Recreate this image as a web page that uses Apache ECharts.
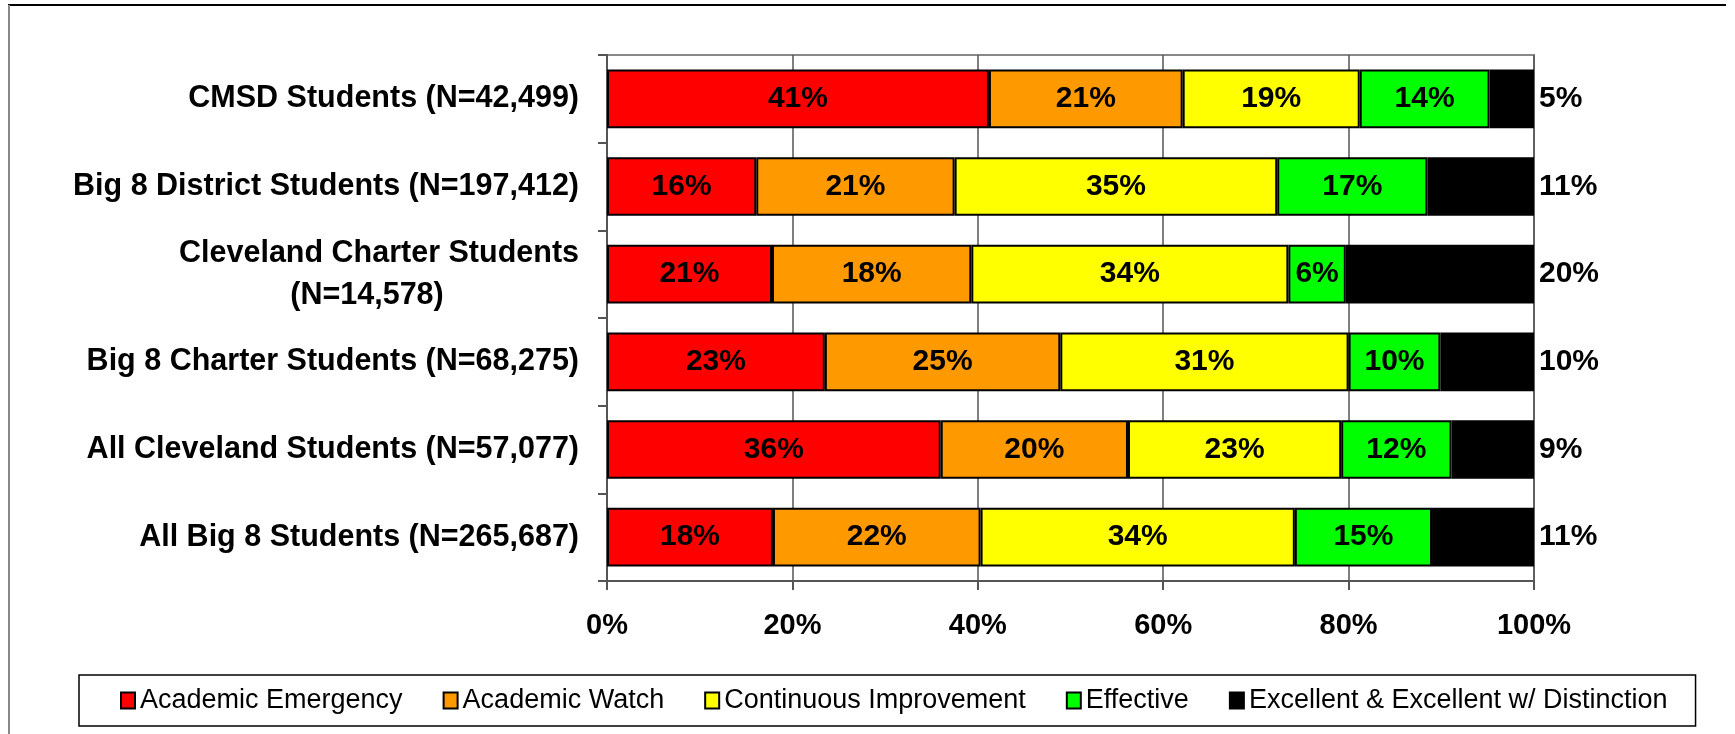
<!DOCTYPE html>
<html>
<head>
<meta charset="utf-8">
<script src="https://cdn.jsdelivr.net/npm/echarts@6.0.0/dist/echarts.min.js"></script>
<style>
  html, body { margin: 0; padding: 0; background: #fff; }
  #chart { width: 1735px; height: 734px; }
</style>
</head>
<body>
<div id="chart"></div>
<script>
// Performance designation shares by student group
const categories = [
    'CMSD Students (N=42,499)',
    'Big 8 District Students (N=197,412)',
    'Cleveland Charter Students\n(N=14,578)',
    'Big 8 Charter Students (N=68,275)',
    'All Cleveland Students (N=57,077)',
    'All Big 8 Students (N=265,687)'
];
const seriesNames = [
    'Academic Emergency',
    'Academic Watch',
    'Continuous Improvement',
    'Effective',
    'Excellent & Excellent w/ Distinction'
];
const seriesColors = ['#ff0000', '#ff9900', '#ffff00', '#00ff00', '#000000'];

// bar lengths (percent) as drawn
const emergency = [41.2, 16.1, 17.8, 23.5, 36.0, 17.9];
const watch = [20.9, 21.4, 21.5, 25.4, 20.2, 22.4];
const continuous = [19.1, 34.8, 34.2, 31.1, 23.0, 33.9];
const effective = [14.0, 16.2, 6.2, 9.9, 11.9, 14.8];
const excellent = [4.8, 11.5, 20.3, 10.1, 8.9, 11.0];

// printed labels (percent)
const emergencyLbl = [41, 16, 21, 23, 36, 18];
const watchLbl = [21, 21, 18, 25, 20, 22];
const continuousLbl = [19, 35, 34, 31, 23, 34];
const effectiveLbl = [14, 17, 6, 10, 12, 15];
const excellentLbl = [5, 11, 20, 10, 9, 11];

const xTicks = [0, 20, 40, 60, 80, 100];

const values = [emergency, watch, continuous, effective, excellent];
const labels = [emergencyLbl, watchLbl, continuousLbl, effectiveLbl, excellentLbl];

const FONT = '"Liberation Sans", Arial, sans-serif';
const catFont = 30.5;

// used to centre the 2nd line of a wrapped category label under the first
const ctx = document.createElement('canvas').getContext('2d');
ctx.font = 'bold ' + catFont + 'px "Liberation Sans"';

const chart = echarts.init(document.getElementById('chart'));

const series = seriesNames.map((name, i) => ({
    name: name,
    type: 'bar',
    stack: 'total',
    barCategoryGap: '33%',
    data: values[i],
    itemStyle: {
        color: seriesColors[i],
        borderColor: '#000',
        borderWidth: 2
    },
    label: {
        show: true,
        position: i === 4 ? 'right' : 'inside',
        distance: 5,
        color: '#000',
        fontFamily: FONT,
        fontWeight: 'bold',
        fontSize: 30,
        formatter: p => labels[i][p.dataIndex] + '%'
    },
    emphasis: { disabled: true },
    animation: false
}));

const option = {
    backgroundColor: '#fff',
    animation: false,
    grid: {
        left: 607,
        right: 201,
        top: 55,
        bottom: 153,
        show: true,
        backgroundColor: '#fff',
        borderColor: '#888',
        borderWidth: 2
    },
    xAxis: {
        type: 'value',
        min: xTicks[0],
        max: xTicks[xTicks.length - 1],
        interval: 20,
        axisLine: { show: true, lineStyle: { color: '#555', width: 2 } },
        axisTick: { show: true, length: 9, lineStyle: { color: '#555', width: 2 } },
        splitLine: { show: true, lineStyle: { color: '#555', width: 1.5 } },
        axisLabel: {
            margin: 30,
            color: '#000',
            fontFamily: FONT,
            fontWeight: 'bold',
            fontSize: 29,
            formatter: '{value}%'
        }
    },
    yAxis: {
        type: 'category',
        inverse: true,
        data: categories,
        axisLine: { show: true, lineStyle: { color: '#555', width: 2 } },
        axisTick: { show: true, length: 9, lineStyle: { color: '#555', width: 2 } },
        axisLabel: {
            margin: 28,
            color: '#000',
            fontFamily: FONT,
            fontWeight: 'bold',
            fontSize: catFont,
            formatter: v => {
                const parts = v.split('\n');
                if (parts.length < 2) return '{a|' + v + '}';
                return '{a|' + parts[0] + '}\n{b|' + parts[1] + '}';
            },
            rich: {
                a: { fontFamily: FONT, fontWeight: 'bold', fontSize: catFont, color: '#000', lineHeight: 42 },
                b: {
                    fontFamily: FONT, fontWeight: 'bold', fontSize: catFont, color: '#000', lineHeight: 42,
                    padding: [0, 0, 0, 0]
                }
            }
        }
    },
    legend: {
        left: 79,
        top: 675,
        orient: 'horizontal',
        icon: 'rect',
        itemWidth: 14,
        itemHeight: 16,
        itemGap: 40,
        padding: [12, 28, 12, 41],
        borderColor: '#000',
        borderWidth: 1.5,
        itemStyle: { borderColor: '#000', borderWidth: 2 },
        textStyle: { color: '#000', fontFamily: FONT, fontSize: 27 },
        selectedMode: false,
        data: seriesNames
    },
    graphic: [
        { type: 'line', shape: { x1: 8, y1: 5, x2: 1726, y2: 5 }, style: { stroke: '#000', lineWidth: 2 } },
        { type: 'line', shape: { x1: 9, y1: 5, x2: 9, y2: 734 }, style: { stroke: '#888', lineWidth: 2 } }
    ],
    series: series
};

// pad the second line so it sits roughly centred under the first (slightly left, as in Excel)
const wrapped = categories.find(c => c.indexOf('\n') >= 0);
if (wrapped) {
    const parts = wrapped.split('\n');
    const pad = Math.max(0, (ctx.measureText(parts[0]).width - ctx.measureText(parts[1]).width) / 2);
    option.yAxis.axisLabel.rich.b.padding = [0, pad + 12, 0, 0];
}

chart.setOption(option);
</script>
</body>
</html>
